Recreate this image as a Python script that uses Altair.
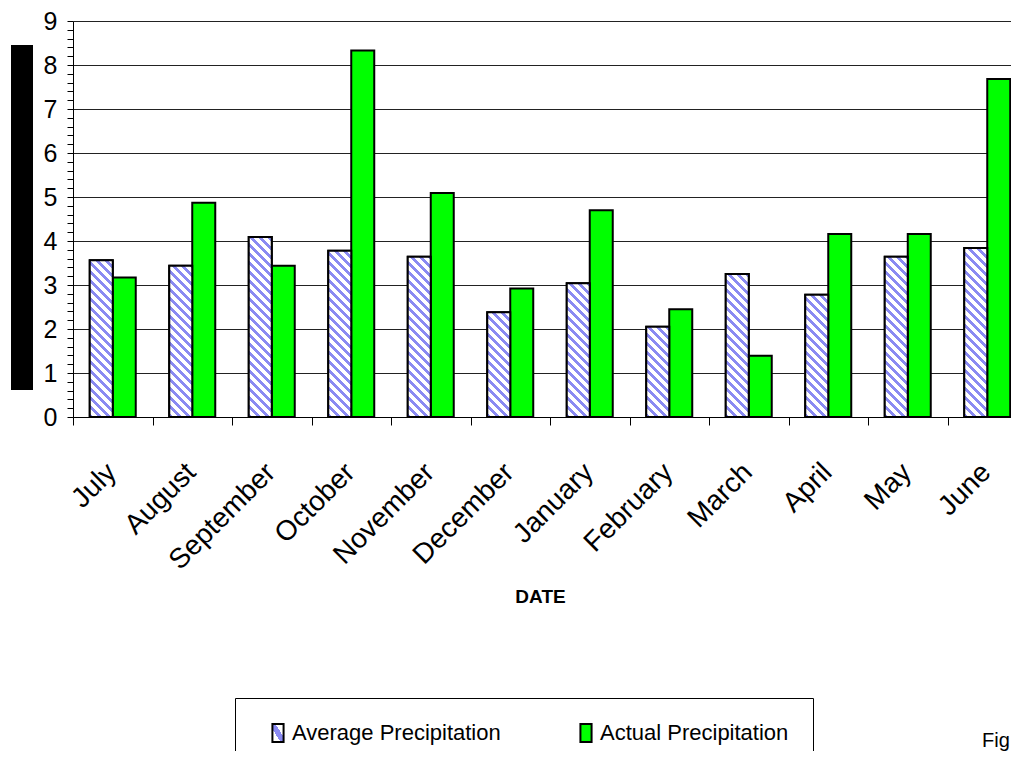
import altair as alt

months = ["July", "August", "September", "October", "November", "December",
          "January", "February", "March", "April", "May", "June"]
average = [3.56, 3.44, 4.09, 3.78, 3.64, 2.38, 3.04, 2.05, 3.25, 2.78, 3.64, 3.84]
actual = [3.17, 4.87, 3.44, 8.33, 5.09, 2.92, 4.70, 2.45, 1.39, 4.16, 4.16, 7.68]
series_names = ["Average Precipitation", "Actual Precipitation"]
y_minor = [round(i * 0.2, 1) for i in range(46)]

FONT = "Liberation Sans, Arial, sans-serif"
BLUE = "#8a8af2"
GREEN = "#00ff00"

PLOT_W = 938
PLOT_H = 396
TOP = 13
X_RANGE = 954
STEP = X_RANGE / 12
OFF_PAD = (STEP / 23.0 - 2) / 2
BAR_W = STEP / (2 + 2 * OFF_PAD)
PX_PER_UNIT = PLOT_H / 9


def hatch(h, w=BAR_W, period=9.0, frac=0.42):
    L = w + h
    s = L / (w * w + h * h)
    stops = []
    pos = 0.0
    while pos < L:
        a = round(pos / L, 5)
        b = round(min((pos + frac * period) / L, 1), 5)
        c = round(min((pos + period) / L, 1), 5)
        stops += [{"offset": a, "color": BLUE}, {"offset": b, "color": BLUE},
                  {"offset": b, "color": "#ffffff"}, {"offset": c, "color": "#ffffff"}]
        pos += period
    return {"gradient": "linear", "x1": 0, "y1": 1,
            "x2": round(s * w, 5), "y2": round(1 - s * h, 5), "stops": stops}


rows = []
for m, a, b in zip(months, average, actual):
    rows.append({"month": m, "series": series_names[0], "value": a,
                 "grad": hatch(a * PX_PER_UNIT)})
    rows.append({"month": m, "series": series_names[1], "value": b})

data = alt.Data(values=rows)

x_enc = alt.X("month:N", sort=months,
              scale=alt.Scale(range=[0, X_RANGE], paddingInner=0, paddingOuter=0),
              axis=alt.Axis(title="DATE", titleFont=FONT, titleFontSize=19,
                            titleFontWeight="bold", titleColor="black",
                            titleX=467, titleY=185, titleAlign="center",
                            titleBaseline="alphabetic",
                            labelAngle=-45, labelAlign="right", labelBaseline="top",
                            labelFont=FONT, labelFontSize=28, labelColor="black",
                            labelPadding=33, labelOffset=-11, labelOverlap=False,
                            labelBound=False, labelFlush=False, labelLimit=400,
                            tickBand="extent", tickSize=8, tickColor="black",
                            domainColor="black", grid=False))
xoff_enc = alt.XOffset("series:N", sort=series_names,
                       scale=alt.Scale(domain=series_names, paddingInner=0,
                                       paddingOuter=OFF_PAD))
y_enc = alt.Y("value:Q", scale=alt.Scale(domain=[0, 9], nice=False, zero=True),
              axis=alt.Axis(title=None, values=y_minor,
                            labelExpr="datum.value % 1 === 0 ? format(datum.value, 'd') : ''",
                            labelFont=FONT, labelFontSize=25, labelColor="black",
                            labelPadding=10, labelOverlap=False, labelFlush=False,
                            tickSize=6, tickColor="black", domainColor="black",
                            grid=True,
                            gridColor={"condition": {"test": "datum.value % 1 === 0",
                                                     "value": "#222222"},
                                       "value": "transparent"},
                            gridWidth=1))

legend_hatch_expr = (
    "{gradient: 'linear', x1: 0, y1: 1, x2: 1, y2: 0, stops: ["
    "{offset: 0, color: '#ffffff'}, {offset: 0.36, color: '#ffffff'}, "
    "{offset: 0.36, color: '" + BLUE + "'}, {offset: 0.64, color: '" + BLUE + "'}, "
    "{offset: 0.64, color: '#ffffff'}, {offset: 1, color: '#ffffff'}]}"
)

bars = alt.Chart(data).mark_bar(stroke="black", strokeWidth=2).encode(
    x=x_enc, xOffset=xoff_enc, y=y_enc,
    fill=alt.Fill("series:N",
                  scale=alt.Scale(domain=series_names,
                                  range=[alt.ExprRef(legend_hatch_expr), GREEN]),
                  legend=alt.Legend(title=None, orient="none", legendX=162, legendY=677,
                                    direction="horizontal", labelFont=FONT,
                                    labelFontSize=22, labelColor="black", labelLimit=500,
                                    symbolType="M-0.62,-1H0.62V1H-0.62Z", symbolSize=324,
                                    symbolStrokeColor="black", symbolStrokeWidth=2,
                                    symbolOpacity=1, symbolOffset=8,
                                    labelOffset=3, columnPadding=66, padding=24,
                                    strokeColor="black", fillColor="white")),
)

hatched = alt.Chart(data).mark_bar(stroke="black", strokeWidth=2).encode(
    x=x_enc, xOffset=xoff_enc, y=y_enc,
    fill=alt.Fill("grad:N", scale=None, legend=None),
).transform_filter(alt.datum.series == series_names[0])

block = alt.Chart(alt.Data(values=[{"k": 1}])).mark_rect(color="black").encode(
    x=alt.value(-62), x2=alt.value(-40), y=alt.value(24), y2=alt.value(369))

fig = alt.Chart(alt.Data(values=[{"t": "Fig"}])).mark_text(
    font=FONT, fontSize=20, color="black", align="left", baseline="alphabetic"
).encode(text="t:N", x=alt.value(909), y=alt.value(726))

chart = alt.layer(bars, hatched, block, fig).properties(
    width=PLOT_W, height=PLOT_H,
    autosize=alt.AutoSizeParams(type="none"),
    padding={"left": 65, "top": TOP, "right": 0, "bottom": 743 - PLOT_H - TOP},
    background="white",
).configure_view(stroke=None)

chart.save("out.html", embed_options={"renderer": "svg", "actions": False})
